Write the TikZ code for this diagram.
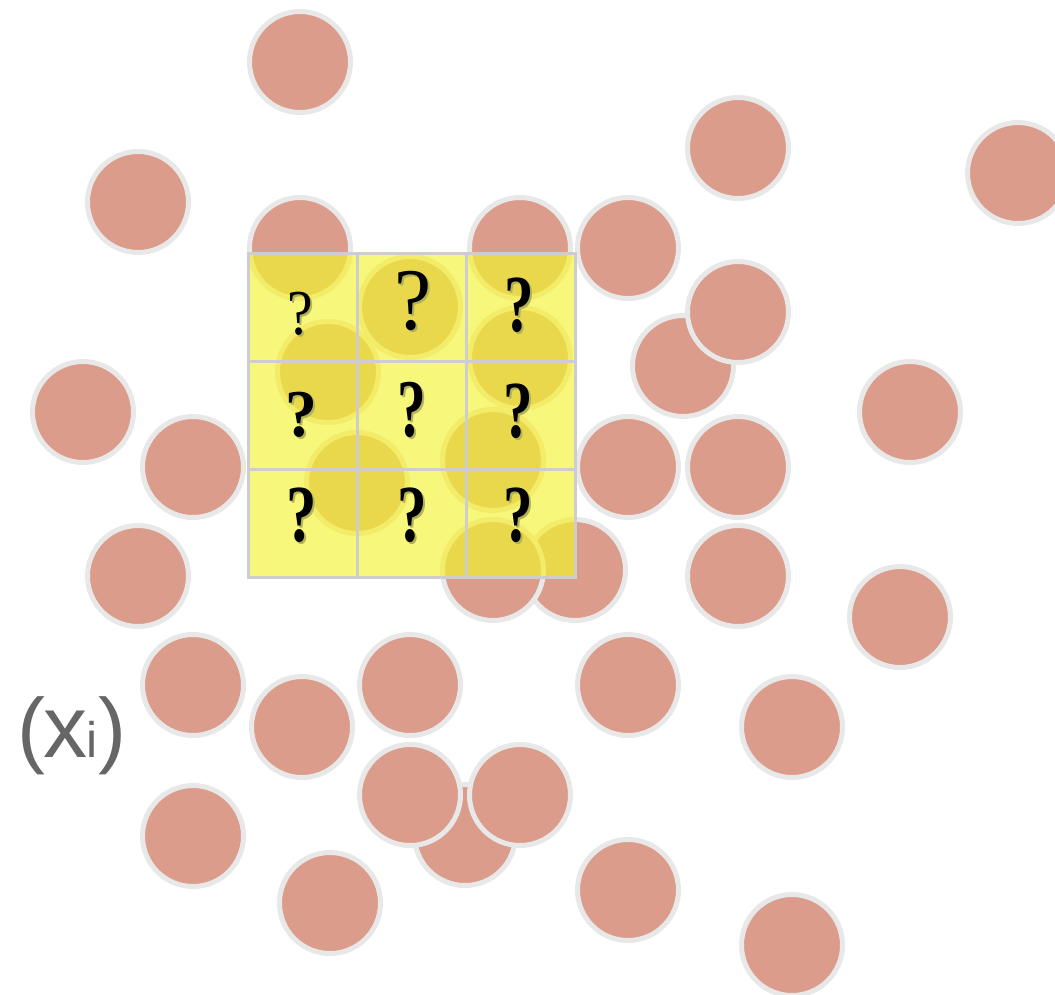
\documentclass[tikz,border=0pt]{standalone}
\usepackage{fontspec}
\usepackage{graphicx}
\newfontfamily\labelsans{Liberation Sans}
\newfontfamily\qserif{Liberation Serif}
\definecolor{dotfill}{RGB}{219,156,140}
\definecolor{dotring}{RGB}{232,232,232}
\definecolor{cellfill}{RGB}{247,247,123}
\definecolor{ydotfill}{RGB}{234,216,76}
\definecolor{ydotring}{RGB}{242,236,104}
\definecolor{gridline}{RGB}{205,205,205}
\definecolor{labelgray}{RGB}{102,102,102}
% a glyph with a soft drop shadow below and to the right
\newcommand\shadowed[1]{%
  \makebox[0pt][l]{\kern2pt\raisebox{-2.4pt}{\textcolor{black!28!cellfill}{#1}}}%
  #1}
\tikzset{
  dot/.style={circle, fill=dotfill, draw=dotring, line width=5pt,
    minimum size=101pt, inner sep=0pt},
  ydot/.style={dot, fill=ydotfill, draw=ydotring},
  cell/.style={rectangle, fill=cellfill, minimum width=109pt,
    minimum height=108pt, inner sep=0pt, outer sep=0pt},
  cellline/.style={draw=gridline, line width=3pt},
  qtext/.style={inner sep=0pt, text=black},
}
\begin{document}
\begin{tikzpicture}[x=1pt, y=-1pt]
\useasboundingbox (0,0) rectangle (1055,994);
\clip (0,0) rectangle (1055,994);

% scattered sample points
\foreach \n/\x/\y in {
   1/300/62,   2/738/148,  3/1018/173, 4/138/202,
   5/300/248,  6/520/248,  7/628/248,  9/683/366,
   8/738/312, 10/83/412,  11/910/412, 12/193/467,
  13/628/467, 14/738/467, 15/138/576, 17/575/570,
  16/493/570, 18/738/576, 19/900/617, 20/193/685,
  21/410/685, 22/628/685, 23/302/727, 24/792/727,
  27/465/835, 25/410/795, 26/520/795, 28/193/836,
  29/330/903, 30/628/890, 31/792/945,
  32/410/307, 33/328/372, 34/520/358, 35/357/483,
  36/493/460}
  \node[dot] (c\n) at (\x,\y) {};

% the 3x3 window
\foreach \r in {1,2,3}
  \foreach \c in {1,2,3}
    \node[cell] (cell\r\c) at ({302.5+109*(\c-1)}, {307+108*(\r-1)}) {};

% points seen through the window
\begin{scope}
  \clip (cell11.north west) rectangle (cell33.south east);
  \foreach \n in {5,6,7,13,17,16,32,33,34,35,36}
    \node[ydot] (y\n) at (c\n.center) {};
\end{scope}

\foreach \r in {1,2,3}
  \foreach \c in {1,2,3}
    \draw[cellline] (cell\r\c.north west) rectangle (cell\r\c.south east);

% unknown values in the window
\foreach \r/\c/\x/\y/\s/\w/\h in {
    1/1/300/315/64/\mdseries/0.9,  1/2/413/302/88/\mdseries/0.95,
    1/3/519/306/81/\bfseries/0.73, 2/1/301/416/67/\bfseries/0.95,
    2/2/412/411/82/\bfseries/0.7,  2/3/518/412/81/\bfseries/0.73,
    3/1/302/516/81/\bfseries/0.75, 3/2/412/516/81/\bfseries/0.73,
    3/3/518/516/81/\bfseries/0.73}
  \node[qtext, font=\qserif\fontsize{\s}{\s}\selectfont\w]
    (q\r\c) at (\x,\y) {\shadowed{\scalebox{\h}[1]{?}}};

% series label
\node[anchor=base west, inner sep=0pt, text=labelgray] (xi) at (17,757)
  {\labelsans\fontsize{84}{90}\selectfont(\kern-1.5pt\fontsize{88}{90}\selectfont x\kern-1pt\fontsize{50}{50}\selectfont i\kern0.5pt\fontsize{84}{90}\selectfont)};
\end{tikzpicture}
\end{document}
